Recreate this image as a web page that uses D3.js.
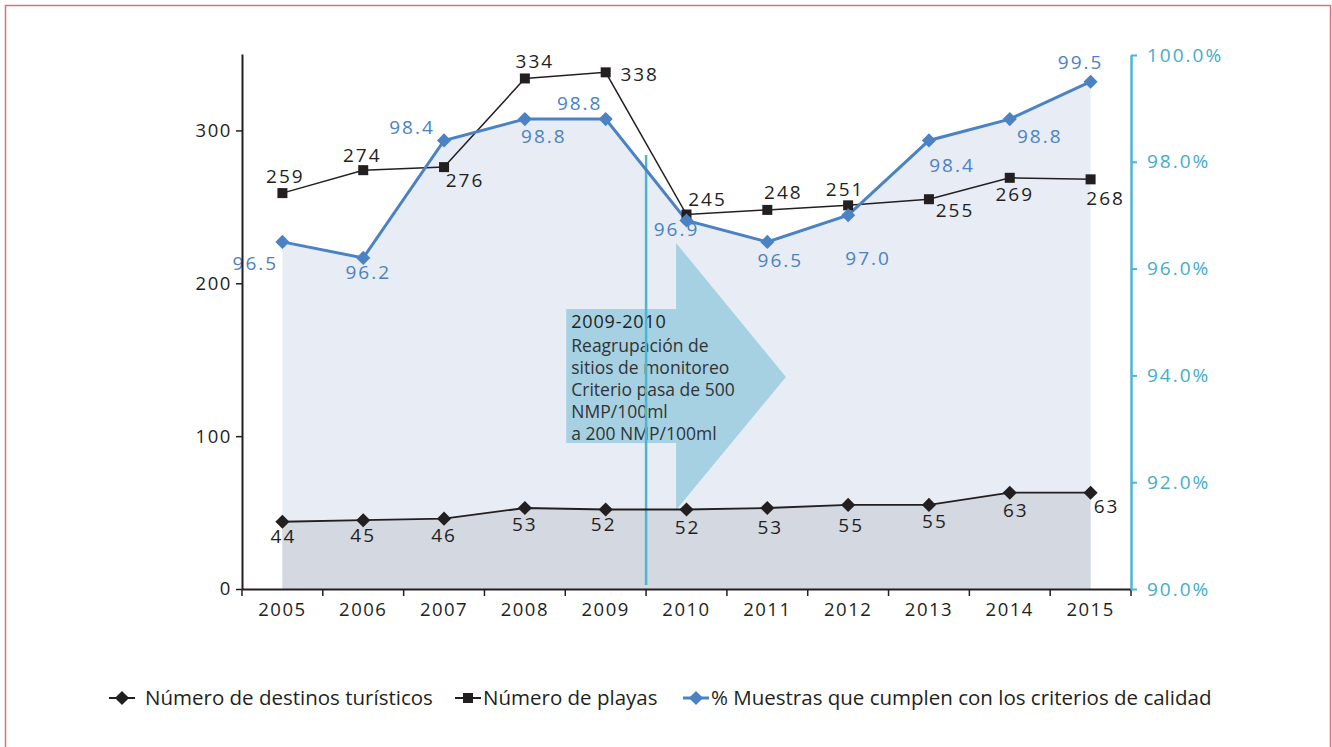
<!DOCTYPE html>
<html lang="es">
<head>
    <meta charset="UTF-8">
    <title>Playas y destinos</title>
    <script src="https://cdn.jsdelivr.net/npm/d3@7/dist/d3.min.js"></script>
    <style>
        body { margin: 0; background: #fff; }
        text { font-family: "Open Sans", sans-serif; }
    </style>
</head>
<body>
    <script>
        // data
        var years = ['2005', '2006', '2007', '2008', '2009', '2010', '2011', '2012', '2013', '2014', '2015'];
        var destinos = [44, 45, 46, 53, 52, 52, 53, 55, 55, 63, 63];
        var playas = [259, 274, 276, 334, 338, 245, 248, 251, 255, 269, 268];
        var muestras = [96.5, 96.2, 98.4, 98.8, 98.8, 96.9, 96.5, 97.0, 98.4, 98.8, 99.5];
        var leftTicks = [0, 100, 200, 300];
        var rightTicks = [90, 92, 94, 96, 98, 100];
        var seriesNames = ['Número de destinos turísticos', 'Número de playas', '% Muestras que cumplen con los criterios de calidad'];
        var noteTitle = '2009-2010';
        var noteLines = ['Reagrupación de', 'sitios de monitoreo', 'Criterio pasa de 500', 'NMP/100ml', 'a 200 NMP/100ml'];

        // label offsets (placement only)
        var playasOff = [[3,-17],[-1,-15],[21,13],[10,-17],[34,2],[21,-15],[16,-18],[-3,-16],[26,11],[5,17],[15,19]];
        var muestrasOff = [[-27,21],[5,14],[-32,-13],[19,17],[-26,-16],[-10,9],[13,18],[20,43],[23,25],[30,17],[-10,-19]];
        var destinosOff = [[1,15],[0,15],[0,17],[0,16],[-2,15],[1,18],[3,19],[3,20],[6,16],[6,18],[16,14]];

        var w = 1332, h = 747;
        var blue = '#4a82c3', cyan = '#4bb6d2';

        var svg = d3.select('body').append('svg')
            .attr('width', w).attr('height', h);

        // frame
        svg.append('rect')
            .attr('x', 5.5).attr('y', 5.5)
            .attr('width', 1325).attr('height', 800)
            .attr('fill', 'none').attr('stroke', '#d9727d').attr('stroke-width', 1.5);

        var x = d3.scaleBand().domain(years).range([242, 1131]);
        var cx = function(d, i) { return x(years[i]) + x.bandwidth() / 2; };
        var yL = d3.scaleLinear().domain([0, 350]).range([589, 54]);
        var yR = d3.scaleLinear().domain([90, 100]).range([589, 55]);

        // areas
        var areaBlue = d3.area().x(cx).y0(yL(0)).y1(function(d) { return yR(d); });
        svg.append('path').datum(muestras).attr('d', areaBlue).attr('fill', '#e7ecf5');
        var areaGray = d3.area().x(cx).y0(yL(0)).y1(function(d) { return yL(d); });
        svg.append('path').datum(destinos).attr('d', areaGray).attr('fill', '#d3d8e1');

        // note arrow
        var ax0 = x('2009') + 1, ax1 = x('2010') + 30, ax2 = x('2011') + 59;
        svg.append('path')
            .attr('d', 'M' + ax0 + ',309 H' + ax1 + ' V243 L' + ax2 + ',377 L' + ax1 + ',510 V443 H' + ax0 + ' Z')
            .attr('fill', '#a6d1e3');
        svg.append('text').attr('x', ax0 + 5).attr('y', 328)
            .attr('font-size', 18).attr('letter-spacing', 0.8).attr('fill', '#222').text(noteTitle);
        svg.append('g').selectAll('text').data(noteLines).enter().append('text')
            .attr('x', ax0 + 5)
            .attr('y', function(d, i) { return 352 + i * 22; })
            .attr('font-size', 17.5).attr('fill', '#333')
            .text(function(d) { return d; });

        // vertical separator
        svg.append('line')
            .attr('x1', x('2010')).attr('x2', x('2010'))
            .attr('y1', 155).attr('y2', 585)
            .attr('stroke', cyan).attr('stroke-width', 2.5);

        // lines
        var lineL = d3.line().x(cx).y(function(d) { return yL(d); });
        var lineR = d3.line().x(cx).y(function(d) { return yR(d); });
        svg.append('path').datum(destinos).attr('d', lineL)
            .attr('fill', 'none').attr('stroke', '#231f20').attr('stroke-width', 1.8);
        svg.append('path').datum(playas).attr('d', lineL)
            .attr('fill', 'none').attr('stroke', '#231f20').attr('stroke-width', 1.5);
        svg.append('path').datum(muestras).attr('d', lineR)
            .attr('fill', 'none').attr('stroke', blue).attr('stroke-width', 3);

        var diamond = d3.symbol().type(d3.symbolSquare).size(100);
        // markers
        svg.append('g').selectAll('path').data(destinos).enter().append('path')
            .attr('d', diamond)
            .attr('transform', function(d, i) { return 'translate(' + cx(d, i) + ',' + yL(d) + ') rotate(45)'; })
            .attr('fill', '#231f20');
        svg.append('g').selectAll('rect').data(playas).enter().append('rect')
            .attr('x', function(d, i) { return cx(d, i) - 5; })
            .attr('y', function(d) { return yL(d) - 5; })
            .attr('width', 10).attr('height', 10)
            .attr('fill', '#231f20');
        svg.append('g').selectAll('path').data(muestras).enter().append('path')
            .attr('d', diamond)
            .attr('transform', function(d, i) { return 'translate(' + cx(d, i) + ',' + yR(d) + ') rotate(45)'; })
            .attr('fill', blue);

        // value labels
        function labels(data, scale, off, color, fmt) {
            svg.append('g').selectAll('text').data(data).enter().append('text')
                .attr('x', function(d, i) { return cx(d, i) + off[i][0]; })
                .attr('y', function(d, i) { return scale(d) + off[i][1]; })
                .attr('text-anchor', 'middle').attr('dy', '0.35em')
                .attr('font-size', 19).attr('letter-spacing', 2)
                .attr('fill', color)
                .text(fmt);
        }
        labels(playas, yL, playasOff, '#231f20', function(d) { return d; });
        labels(destinos, yL, destinosOff, '#231f20', function(d) { return d; });
        labels(muestras, yR, muestrasOff, blue, d3.format('.1f'));

        // axes
        var xAxis = svg.append('g')
            .attr('transform', 'translate(0,' + yL(0) + ')')
            .call(d3.axisBottom(x).tickSize(0).tickPadding(14));
        xAxis.select('.domain').attr('stroke', '#231f20').attr('stroke-width', 2);
        xAxis.selectAll('text').attr('font-size', 18.5).attr('letter-spacing', 1.5).attr('fill', '#231f20');
        var bounds = years.map(function(d) { return x(d); }).concat([x.range()[1]]);
        xAxis.append('g').selectAll('line').data(bounds).enter().append('line')
            .attr('x1', function(d) { return d; }).attr('x2', function(d) { return d; })
            .attr('y1', 0).attr('y2', 7)
            .attr('stroke', '#231f20').attr('stroke-width', 1.5);

        var yAxisL = svg.append('g')
            .attr('transform', 'translate(242,0)')
            .call(d3.axisLeft(yL).tickValues(leftTicks).tickSizeInner(6).tickSizeOuter(0).tickPadding(4));
        yAxisL.select('.domain').attr('stroke', '#231f20').attr('stroke-width', 2);
        yAxisL.selectAll('.tick line').attr('stroke', '#231f20').attr('stroke-width', 1.5);
        yAxisL.selectAll('text').attr('font-size', 18.5).attr('letter-spacing', 1.6).attr('fill', '#231f20');

        var yAxisR = svg.append('g')
            .attr('transform', 'translate(1131,0)')
            .call(d3.axisRight(yR).tickValues(rightTicks).tickSizeInner(6).tickSizeOuter(0).tickPadding(10)
                .tickFormat(function(d) { return d3.format('.1f')(d) + '%'; }));
        yAxisR.select('.domain').attr('stroke', cyan).attr('stroke-width', 2.5);
        yAxisR.selectAll('.tick line').attr('stroke', cyan).attr('stroke-width', 2);
        yAxisR.selectAll('text').attr('font-size', 19).attr('letter-spacing', 2).attr('fill', '#45acc8');

        // legend
        var legX = [109, 455, 683];
        var leg = svg.append('g').attr('transform', 'translate(0,698)');
        seriesNames.forEach(function(name, i) {
            var g = leg.append('g').attr('transform', 'translate(' + legX[i] + ',0)');
            var c = i === 2 ? blue : '#231f20';
            g.append('line').attr('x1', 0).attr('x2', 26).attr('stroke', c).attr('stroke-width', i === 2 ? 3 : 2);
            if (i === 1) {
                g.append('rect').attr('x', 8).attr('y', -5).attr('width', 10).attr('height', 10).attr('fill', c);
            } else {
                g.append('path').attr('d', diamond).attr('transform', 'translate(13,0) rotate(45)').attr('fill', c);
            }
            g.append('text').attr('x', i === 1 ? 28 : (i === 2 ? 28 : 36)).attr('dy', '0.35em')
                .attr('font-size', 20.5).attr('fill', '#231f20').text(name);
        });
    </script>
</body>
</html>
